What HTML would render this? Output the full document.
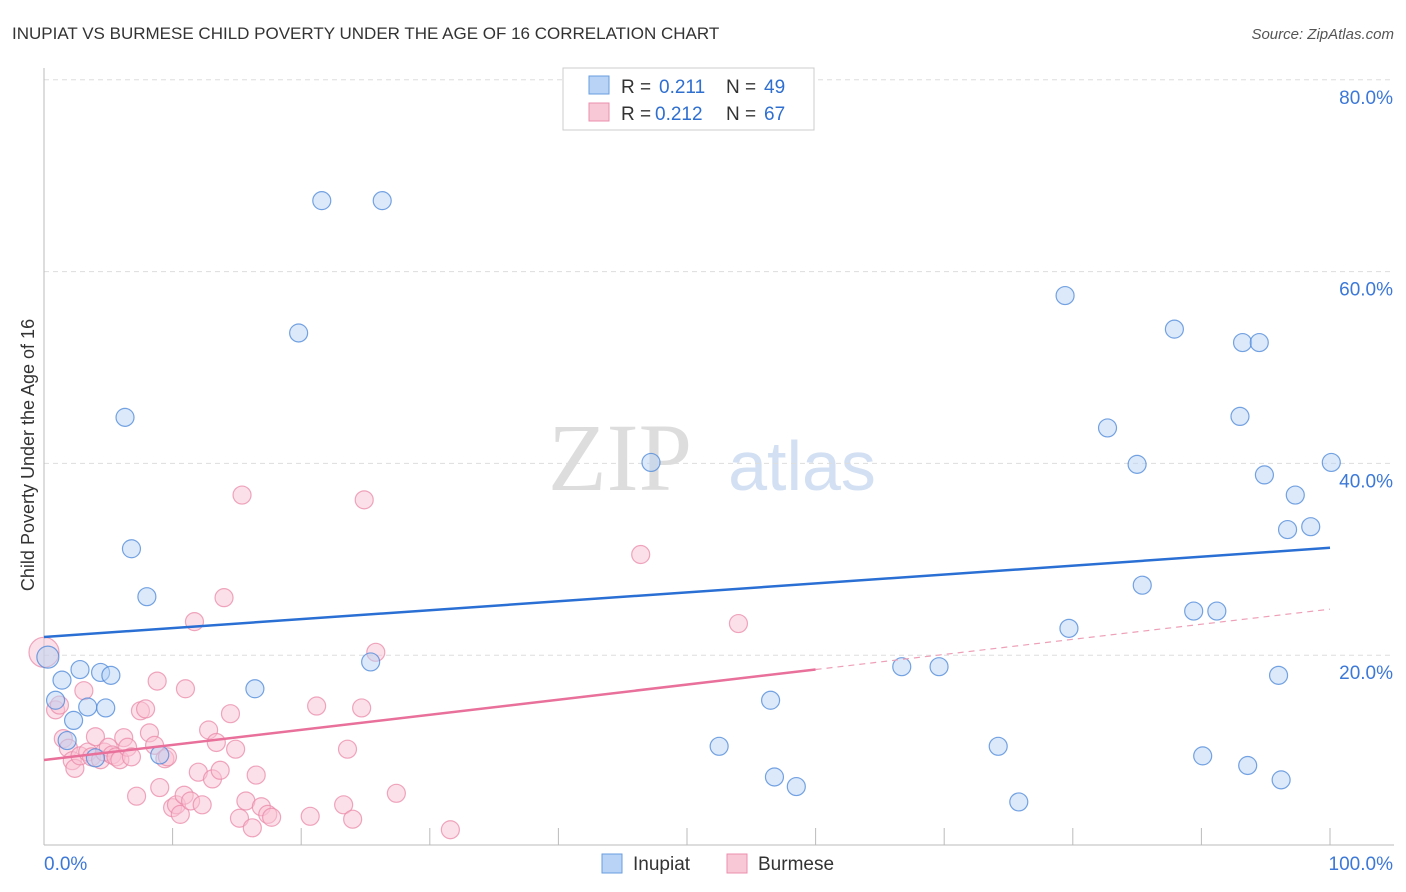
<!DOCTYPE html>
<html><head><meta charset="utf-8"><style>
body{margin:0;background:#fff;font-family:"Liberation Sans",sans-serif}
svg{display:block}
</style></head><body>
<svg id="chart" width="1406" height="892">
<text x="12" y="39" font-size="17" fill="#333">INUPIAT VS BURMESE CHILD POVERTY UNDER THE AGE OF 16 CORRELATION CHART</text>
<text x="1394" y="39" font-size="15" fill="#555" text-anchor="end" font-style="italic">Source: ZipAtlas.com</text>
<text x="620" y="490" font-size="96" fill="#ddd" font-family="Liberation Serif,serif" text-anchor="middle">ZIP</text>
<text x="802" y="490" font-size="70" fill="#d3e0f3" text-anchor="middle">atlas</text>
<g id="grid"></g><g id="axes"></g><g id="marks"></g>
<text transform="translate(34,455) rotate(-90)" font-size="18" fill="#333" text-anchor="middle">Child Poverty Under the Age of 16</text>
<g>
<rect x="563" y="68" width="251" height="62" fill="#fff" stroke="#ccc"/>
<rect x="589" y="76" width="20" height="18" fill="#b8d3f5" stroke="#6a9ee0"/>
<rect x="589" y="103" width="20" height="18" fill="#f9c8d7" stroke="#ec8fac"/>
<text x="621" y="93" font-size="19" fill="#333">R =</text><text x="659" y="93" font-size="19" fill="#2f6fd0">0.211</text>
<text x="726" y="93" font-size="19" fill="#333">N =</text><text x="764" y="93" font-size="19" fill="#2f6fd0">49</text>
<text x="621" y="120" font-size="19" fill="#333">R =</text><text x="655" y="120" font-size="19" fill="#2f6fd0">0.212</text>
<text x="726" y="120" font-size="19" fill="#333">N =</text><text x="764" y="120" font-size="19" fill="#2f6fd0">67</text>
</g>
<g>
<rect x="602" y="854" width="20" height="19" fill="#b8d3f5" stroke="#6a9ee0"/>
<text x="633" y="870" font-size="19" fill="#333">Inupiat</text>
<rect x="727" y="854" width="20" height="19" fill="#f9c8d7" stroke="#ec8fac"/>
<text x="758" y="870" font-size="19" fill="#333">Burmese</text>
</g>
</svg>
<script>
const xTicks=[0,10,20,30,40,50,60,70,80,90,100];
const yTicks=[20,40,60,80];
const blueX=[0.3,0.9,1.4,2.3,2.8,1.8,3.4,4.4,4.8,5.2,4.0,6.3,6.8,8.0,9.0,16.4,19.8,21.6,26.3,25.4,47.2,52.5,56.5,56.8,58.5,66.7,69.6,74.2,75.8,79.4,79.7,82.7,85.0,85.4,87.9,89.4,90.1,91.2,93.2,94.5,93.0,93.6,94.9,96.0,96.2,96.7,97.3,98.5,100.1];
const blueY=[19.8,15.3,17.4,13.2,18.5,11.1,14.6,18.2,14.5,17.9,9.3,44.8,31.1,26.1,9.6,16.5,53.6,67.4,67.4,19.3,40.1,10.5,15.3,7.3,6.3,18.8,18.8,10.5,4.7,57.5,22.8,43.7,39.9,27.3,54.0,24.6,9.5,24.6,52.6,52.6,44.9,8.5,38.8,17.9,7.0,33.1,36.7,33.4,40.1];
const pinkX=[0,0.9,1.2,1.5,1.9,2.2,2.4,2.8,3.1,3.4,3.7,4.0,4.4,4.7,5.0,5.3,5.6,5.9,6.2,6.5,6.8,7.2,7.5,7.9,8.2,8.6,8.8,9.0,9.4,9.6,10.0,10.3,10.6,10.9,11.0,11.4,11.7,12.0,12.3,12.8,13.1,13.4,13.7,14.0,14.5,14.9,15.2,15.4,15.7,16.2,16.5,16.9,17.4,17.7,20.7,21.2,23.3,23.6,24.0,24.7,24.9,25.8,27.4,31.6,46.4,54.0];
const pinkY=[20.3,14.3,14.8,11.3,10.3,9.0,8.2,9.5,16.3,9.9,9.4,11.5,9.1,9.9,10.4,9.6,9.4,9.1,11.4,10.4,9.4,5.3,14.2,14.4,11.9,10.6,17.3,6.2,9.2,9.4,4.1,4.4,3.4,5.4,16.5,4.8,23.5,7.8,4.4,12.2,7.1,10.9,8.0,26.0,13.9,10.2,3.0,36.7,4.8,2.0,7.5,4.2,3.4,3.1,3.2,14.7,4.4,10.2,2.9,14.5,36.2,20.3,5.6,1.8,30.5,23.3];
const blueLine=[21.9,31.2];
const pinkLine=[9.07,24.8];
const X=v=>44+v*12.86, Y=v=>847-v*9.59;
const NS='http://www.w3.org/2000/svg';
function mk(t,a,p){const e=document.createElementNS(NS,t);for(const k in a)e.setAttribute(k,a[k]);p.appendChild(e);return e;}
const grid=document.getElementById('grid'),axes=document.getElementById('axes'),marks=document.getElementById('marks');
yTicks.forEach(t=>{const l=mk('line',{x1:44,x2:1394,y1:Y(t),y2:Y(t),stroke:'#ddd','stroke-dasharray':'5,4'},grid);


const tx=mk('text',{x:1393,y:Y(t)+24,'font-size':19,fill:'#3c78d8','text-anchor':'end'},axes);tx.textContent=t.toFixed(1)+'%';

});
const xa=mk('line',{x1:44,x2:1394,y1:845,y2:845,stroke:'#bbb'},axes);


const ya=mk('line',{x1:44,x2:44,y1:68,y2:845,stroke:'#bbb'},axes);


xTicks.forEach(t=>{const l=mk('line',{x1:X(t),x2:X(t),y1:828,y2:845,stroke:'#bbb'},axes);

});
[[0,'0.0%','start',44],[100,'100.0%','end',1393]].forEach(d=>{const tx=mk('text',{x:d[3],y:870,'font-size':19,fill:'#3c78d8','text-anchor':d[2]},axes);tx.textContent=d[1];

});
function dots(xs,ys,fill,stroke,name){xs.forEach((x,i)=>{const r=(i===0&&x<0.5)?(name==='burmese-point'?15:11):9;
const c=mk('circle',{cx:X(x),cy:Y(ys[i]),r:r,fill:fill,'fill-opacity':0.5,stroke:stroke,'stroke-opacity':0.75,'stroke-width':1.2},marks);

});}
dots(pinkX,pinkY,'#f9c2d3','#e98aa8','burmese-point');
dots(blueX,blueY,'#b8d3f5','#4a86d8','inupiat-point');
const bl=mk('line',{x1:X(0),y1:Y(blueLine[0]),x2:X(100),y2:Y(blueLine[1]),stroke:'#2a6fd4','stroke-width':2.5},marks);


const py=v=>pinkLine[0]+(pinkLine[1]-pinkLine[0])*v/100;
const pl=mk('line',{x1:X(0),y1:Y(py(0)),x2:X(60),y2:Y(py(60)),stroke:'#e8709a','stroke-width':2.5},marks);


const pd=mk('line',{x1:X(60),y1:Y(py(60)),x2:X(100),y2:Y(py(100)),stroke:'#eea0b8','stroke-width':1.2,'stroke-dasharray':'6,5'},marks);


</script>
</body></html>
